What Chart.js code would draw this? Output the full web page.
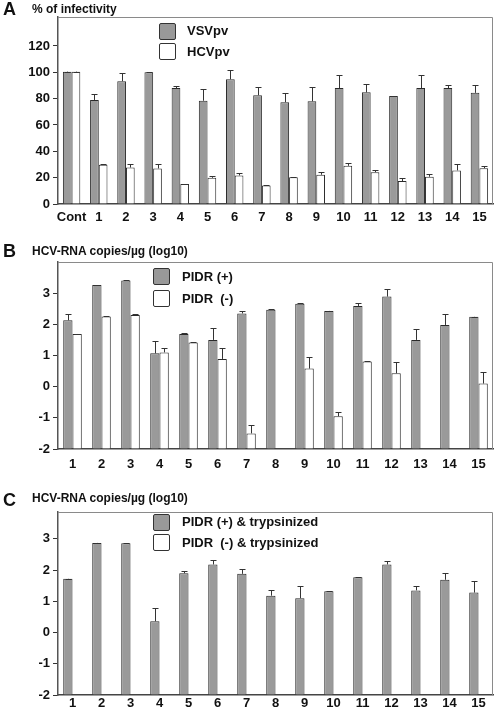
<!DOCTYPE html>
<html>
<head>
<meta charset="utf-8">
<script src="https://cdn.jsdelivr.net/npm/chart.js@4/dist/chart.umd.min.js"></script>
<style>
  html, body { margin: 0; padding: 0; background: #fff; }
  body { width: 498px; height: 718px; position: relative; overflow: hidden;
         font-family: "Liberation Sans", Arial, sans-serif; font-weight: bold; color: #111; }
  canvas { position: absolute; left: 0; }
  .letter { position: absolute; left: 3px; font-size: 18px; line-height: 18px; }
  .ytitle { position: absolute; left: 32px; font-size: 12px; line-height: 14px; }
  .lbox { position: absolute; width: 15px; height: 15px; border: 1px solid #333; border-radius: 2px; }
  .ltext { position: absolute; font-size: 13px; line-height: 16px; white-space: pre; }
</style>
</head>
<body>
<canvas id="chartA" width="498" height="232" style="top:0"></canvas>
<canvas id="chartB" width="498" height="248" style="top:232px"></canvas>
<canvas id="chartC" width="498" height="238" style="top:480px"></canvas>

<div class="letter" style="top:0">A</div>
<div class="ytitle" style="top:2px">% of infectivity</div>
<div class="lbox" style="left:159px;top:23px;background:#999"></div>
<div class="ltext" style="left:187px;top:23px">VSVpv</div>
<div class="lbox" style="left:159px;top:43px;background:#fff"></div>
<div class="ltext" style="left:187px;top:44px">HCVpv</div>

<div class="letter" style="top:242px">B</div>
<div class="ytitle" style="top:244px">HCV-RNA copies/µg (log10)</div>
<div class="lbox" style="left:153px;top:268px;background:#999"></div>
<div class="ltext" style="left:182px;top:269px">PIDR (+)</div>
<div class="lbox" style="left:153px;top:290px;background:#fff"></div>
<div class="ltext" style="left:182px;top:291px">PIDR  (-)</div>

<div class="letter" style="top:491px">C</div>
<div class="ytitle" style="top:491px">HCV-RNA copies/µg (log10)</div>
<div class="lbox" style="left:153px;top:514px;background:#999"></div>
<div class="ltext" style="left:182px;top:514px">PIDR (+) &amp; trypsinized</div>
<div class="lbox" style="left:153px;top:534px;background:#fff"></div>
<div class="ltext" style="left:182px;top:535px">PIDR  (-) &amp; trypsinized</div>

<script>
    // ---- panel A : % of infectivity ----
    var labelsA = ['Cont', '1', '2', '3', '4', '5', '6', '7', '8', '9', '10', '11', '12', '13', '14', '15'];
    var vsvpv    = [100.5, 79, 93.2, 100, 88, 78.4, 94.7, 82.6, 77.3, 78, 88, 84.8, 82, 88, 88, 84.4];
    var vsvpvErr = [100.6, 83.3, 99.2, 100.3, 89.8, 87, 102, 88.6, 84.3, 89, 98, 91.1, 82.3, 98.3, 90.6, 90];
    var hcvpv    = [100.5, 29.8, 27.7, 27, 15.1, 19.9, 21.7, 14, 20.4, 22.2, 29, 24.2, 17.4, 20.7, 25.5, 27.2];
    var hcvpvErr = [100.6, 30.1, 30, 30, 15.3, 21.5, 23.2, 14.2, 20.6, 24.2, 31, 26, 19.9, 23, 30, 29];

    // ---- panel B : HCV-RNA copies/ug (log10) ----
    var labelsBC = ['1', '2', '3', '4', '5', '6', '7', '8', '9', '10', '11', '12', '13', '14', '15'];
    var pidrPos    = [2.13, 3.26, 3.41, 1.07, 1.69, 1.5, 2.35, 2.47, 2.66, 2.43, 2.59, 2.89, 1.5, 1.98, 2.24];
    var pidrPosErr = [2.33, 3.27, 3.42, 1.45, 1.73, 1.87, 2.43, 2.48, 2.67, 2.44, 2.68, 3.14, 1.84, 2.33, 2.25];
    var pidrNeg    = [1.69, 2.25, 2.3, 1.1, 1.42, 0.89, -1.5, null, 0.58, -0.95, 0.81, 0.43, null, null, 0.1];
    var pidrNegErr = [1.7, 2.26, 2.34, 1.24, 1.43, 1.25, -1.22, null, 0.96, -0.81, 0.82, 0.8, null, null, 0.47];

    // ---- panel C : trypsinized ----
    var pidrPosT    = [1.72, 2.87, 2.86, 0.36, 1.9, 2.18, 1.88, 1.18, 1.1, 1.32, 1.77, 2.18, 1.35, 1.69, 1.28];
    var pidrPosTErr = [1.73, 2.88, 2.87, 0.77, 1.97, 2.33, 2.05, 1.37, 1.48, 1.33, 1.78, 2.3, 1.5, 1.9, 1.65];
    var pidrNegT    = [null, null, null, null, null, null, null, null, null, null, null, null, null, null, null];

    var GRAY = '#9a9a9a';
    var EDGE = '#2a2a2a';
    var FONT = { family: '"Liberation Sans", Arial, sans-serif', size: 13, weight: 'bold' };

    // frame on top and right of the plot area
    var framePlugin = {
        id: 'frame',
        beforeDatasetsDraw: function (chart) {
            var a = chart.chartArea, c = chart.ctx;
            c.save();
            c.strokeStyle = '#8a8a8a';
            c.lineWidth = 1;
            c.beginPath();
            c.moveTo(a.left, a.top + 0.5);
            c.lineTo(a.right - 0.5, a.top + 0.5);
            c.lineTo(a.right - 0.5, a.bottom);
            c.stroke();
            c.restore();
        }
    };

    // one-sided (upper) error bars
    var errorBarPlugin = {
        id: 'errorBars',
        afterDatasetsDraw: function (chart) {
            var c = chart.ctx, ys = chart.scales.y;
            chart.data.datasets.forEach(function (ds, di) {
                if (!ds.errTop) return;
                var meta = chart.getDatasetMeta(di);
                meta.data.forEach(function (bar, i) {
                    var v = ds.data[i], e = ds.errTop[i];
                    if (v == null || e == null) return;
                    var x = Math.round(bar.x) + 0.5;
                    var y0 = ys.getPixelForValue(v);
                    var y1 = Math.round(ys.getPixelForValue(e)) + 0.5;
                    var half = 3;
                    c.save();
                    c.strokeStyle = '#333';
                    c.lineWidth = 1;
                    c.beginPath();
                    c.moveTo(x, y0);
                    c.lineTo(x, y1);
                    c.moveTo(x - half, y1);
                    c.lineTo(x + half, y1);
                    c.stroke();
                    c.restore();
                });
            });
        }
    };

    function makeChart(id, labels, sets, yMin, yMax, yTop, step, padTop, xHeight, xPad) {
        return new Chart(document.getElementById(id), {
            type: 'bar',
            data: {
                labels: labels,
                datasets: [
                    {
                        data: sets[0], errTop: sets[1], base: yMin,
                        backgroundColor: GRAY, borderColor: EDGE, borderWidth: 1,
                        categoryPercentage: 0.64, barPercentage: 1.0
                    },
                    {
                        data: sets[2], errTop: sets[3], base: yMin,
                        backgroundColor: '#ffffff', borderColor: EDGE, borderWidth: 1,
                        categoryPercentage: 0.64, barPercentage: 1.0
                    }
                ]
            },
            options: {
                responsive: false,
                animation: false,
                devicePixelRatio: 1,
                layout: { padding: { top: padTop, right: 5, left: 0, bottom: 0 } },
                scales: {
                    x: {
                        grid: { display: false, drawTicks: false },
                        border: { display: true, color: '#444', width: 1.5 },
                        ticks: { font: FONT, color: '#111', padding: xPad, maxRotation: 0, autoSkip: false },
                        afterFit: function (s) { s.height = xHeight; }
                    },
                    y: {
                        min: yMin, max: yMax,
                        grid: { drawOnChartArea: false, drawTicks: true, tickLength: 5, tickColor: '#333' },
                        border: { display: true, color: '#555', width: 1.5 },
                        ticks: { stepSize: step, font: FONT, color: '#111', padding: 3 },
                        afterBuildTicks: function (s) {
                            s.ticks = s.ticks.filter(function (t) { return t.value <= yTop + 1e-9; });
                        },
                        afterFit: function (s) { s.width = 58; }
                    }
                },
                plugins: {
                    legend: { display: false },
                    tooltip: { enabled: false }
                }
            },
            plugins: [framePlugin, errorBarPlugin]
        });
    }

    makeChart('chartA', labelsA, [vsvpv, vsvpvErr, hcvpv, hcvpvErr], 0, 142, 120, 20, 17, 28, 6);
    makeChart('chartB', labelsBC, [pidrPos, pidrPosErr, pidrNeg, pidrNegErr], -2, 4, 3, 1, 30, 31, 8);
    makeChart('chartC', labelsBC, [pidrPosT, pidrPosTErr, pidrNegT, pidrNegT], -2, 3.86, 3, 1, 32, 23, 1);
</script>
</body>
</html>
